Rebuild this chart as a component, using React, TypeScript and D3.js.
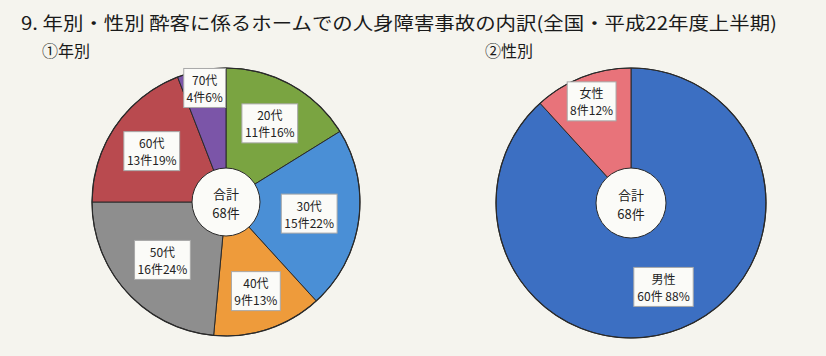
import React from "react";
import * as d3 from "d3";

const TITLE = "9. 年別・性別 酔客に係るホームでの人身障害事故の内訳(全国・平成22年度上半期)";
const SUB_AGE = "①年別";
const SUB_SEX = "②性別";

const ageCategories = ["20代", "30代", "40代", "50代", "60代", "70代"];
const ageCounts = [11, 15, 9, 16, 13, 4];
const agePercents = ["16%", "22%", "13%", "24%", "19%", "6%"];
const ageColors = ["#7aa441", "#4a8fd6", "#ee9b3b", "#8e8e8e", "#b94a4f", "#7b55a8"];
const ageLabelRadius = [90, 84, 94, 86, 90, 116];

const sexCategories = ["男性", "女性"];
const sexCounts = [60, 8];
const sexPercents = ["88%", "12%"];
const sexSep = [" ", ""];
const sexColors = ["#3c6fc2", "#e8737a"];
const sexLabelRadius = [90, 109];

const totalLabel = ["合計", "68件"];

const FONT = "'Noto Sans CJK JP', 'Noto Sans', sans-serif";

function textWidth(s: string, fs: number) {
  let w = 0;
  for (const ch of s) {
    if (/[0-9%]/.test(ch)) w += fs * 0.58;
    else if (ch === " ") w += fs * 0.3;
    else w += fs;
  }
  return w;
}

type PieProps = {
  cx: number;
  cy: number;
  r: number;
  innerR: number;
  cats: string[];
  counts: number[];
  pcts: string[];
  seps: string[];
  colors: string[];
  labelR: number[];
};

function Pie({ cx, cy, r, innerR, cats, counts, pcts, seps, colors, labelR }: PieProps) {
  const pie = d3.pie<number>().sort(null).value((d) => d);
  const arcs = pie(counts);
  const arcGen = d3.arc<d3.PieArcDatum<number>>().innerRadius(0).outerRadius(r);
  const fs = 12;
  return (
    <g transform={`translate(${cx},${cy})`}>
      {arcs.map((a, i) => (
        <path key={i} d={arcGen(a) || ""} fill={colors[i]} stroke="#2a2a2a" strokeWidth={1} />
      ))}
      <circle r={r} fill="none" stroke="#2a2a2a" strokeWidth={1.2} />
      {arcs.map((a, i) => {
        const mid = (a.startAngle + a.endAngle) / 2;
        const lr = labelR[i];
        const x = Math.sin(mid) * lr;
        const y = -Math.cos(mid) * lr;
        const line1 = cats[i];
        const line2 = `${counts[i]}件${seps[i]}${pcts[i]}`;
        const w = Math.max(textWidth(line1, fs), textWidth(line2, fs)) + 9;
        const h = 39;
        return (
          <g key={"l" + i} transform={`translate(${x},${y})`}>
            <rect x={-w / 2} y={-h / 2} width={w} height={h} fill="#fbfbf8" stroke="#a8a8a8" strokeWidth={1} />
            <text y={-3} textAnchor="middle" fontSize={fs} fill="#222" fontFamily={FONT}>{line1}</text>
            <text y={14} textAnchor="middle" fontSize={fs} fill="#222" fontFamily={FONT}>{line2}</text>
          </g>
        );
      })}
      <circle r={innerR} fill="#fbfbf8" stroke="#2a2a2a" strokeWidth={1} />
      <text y={-3} textAnchor="middle" fontSize={13} fill="#222" fontFamily={FONT}>{totalLabel[0]}</text>
      <text y={16} textAnchor="middle" fontSize={13} fill="#222" fontFamily={FONT}>{totalLabel[1]}</text>
    </g>
  );
}

export default function App() {
  const W = 826;
  const H = 356;
  return (
    <svg width={W} height={H} style={{ position: "absolute", left: 0, top: 0, background: "#f5f4ee" }}>
      <rect width={W} height={H} fill="#f5f4ee" />
      <text x={21} y={30} fontSize={18} fill="#1a1a1a" fontFamily={FONT} textLength={756} lengthAdjust="spacingAndGlyphs">{TITLE}</text>
      <text x={42} y={57} fontSize={16} fill="#1a1a1a" fontFamily={FONT}>{SUB_AGE}</text>
      <text x={485} y={57} fontSize={16} fill="#1a1a1a" fontFamily={FONT}>{SUB_SEX}</text>
      <Pie cx={226} cy={202} r={134} innerR={34} cats={ageCategories} counts={ageCounts} pcts={agePercents}
        seps={ageCategories.map(() => "")} colors={ageColors} labelR={ageLabelRadius} />
      <Pie cx={631} cy={203} r={135} innerR={35} cats={sexCategories} counts={sexCounts} pcts={sexPercents}
        seps={sexSep} colors={sexColors} labelR={sexLabelRadius} />
    </svg>
  );
}
